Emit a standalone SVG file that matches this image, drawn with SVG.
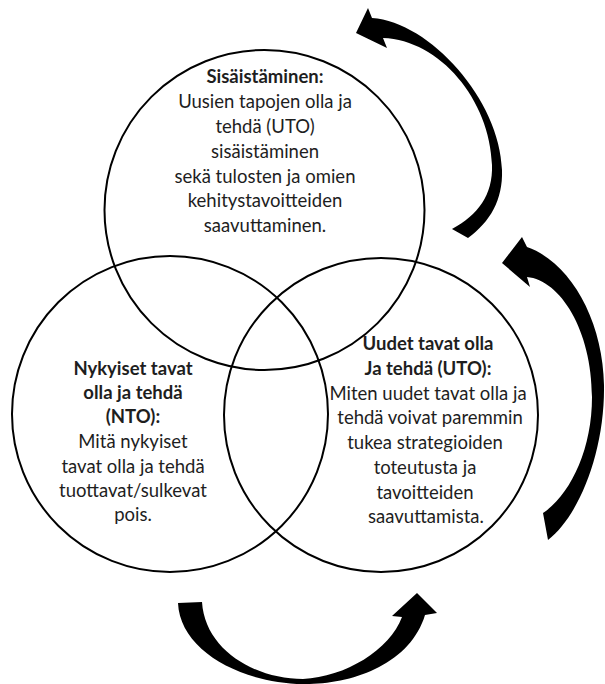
<svg xmlns="http://www.w3.org/2000/svg" width="605" height="684" viewBox="0 0 605 684">
<style>
.c{fill:none;stroke:#000;stroke-width:2}
.t{font-family:Lato,"Liberation Sans",sans-serif;font-size:18.5px;fill:#1e1e1e;text-anchor:middle}
.b{font-weight:bold}
.a{fill:#000;stroke:none}
</style>
<rect width="605" height="684" fill="#fff"/>
<g id="sisaistaminen">
<circle class="c" cx="264.5" cy="210" r="160"/>
<text class="t b" x="265" y="83">Sisäistäminen:</text>
<text class="t" x="265" y="108">Uusien tapojen olla ja</text>
<text class="t" x="265" y="133">tehdä (UTO)</text>
<text class="t" x="265" y="158">sisäistäminen</text>
<text class="t" x="265" y="183">sekä tulosten ja omien</text>
<text class="t" x="265" y="207">kehitystavoitteiden</text>
<text class="t" x="265" y="232">saavuttaminen.</text>
</g>
<g id="nto">
<circle class="c" cx="170" cy="414" r="158"/>
<text class="t b" x="133" y="375">Nykyiset tavat</text>
<text class="t b" x="133" y="399">olla ja tehdä</text>
<text class="t b" x="133" y="423">(NTO):</text>
<text class="t" x="133" y="448">Mitä nykyiset</text>
<text class="t" x="133" y="473">tavat olla ja tehdä</text>
<text class="t" x="133" y="497">tuottavat/sulkevat</text>
<text class="t" x="133" y="521">pois.</text>
</g>
<g id="uto">
<circle class="c" cx="381" cy="415" r="157"/>
<text class="t b" x="428" y="350">Uudet tavat olla</text>
<text class="t b" x="428" y="375">Ja tehdä (UTO):</text>
<text class="t" x="428" y="400">Miten uudet tavat olla ja</text>
<text class="t" x="430" y="424">tehdä voivat paremmin</text>
<text class="t" x="425" y="449">tukea strategioiden</text>
<text class="t" x="425" y="474">toteutusta ja</text>
<text class="t" x="425" y="499">tavoitteiden</text>
<text class="t" x="426" y="523">saavuttamista.</text>
</g>
<g id="connectors">
<path class="a" d="M356 33 L368 8 L372 18 C430 22 500 100 502 170 C503 200 490 222 468 238 L452 229 C478 215 493 195 492 165 C490 100 440 40 383 38 L387 48 Z"/>
<path class="a" d="M502 263 L522 237 L527 247 C570 262 603 320 604 385 C605 450 580 515 548 540 L543 513 C570 495 592 450 592 397 C592 330 560 280 527 277 L530 287 Z"/>
<path class="a" d="M178 603 L202 602 C205 650 255 679 303 679 C345 677 390 650 402 617 L392 616 L417 593 L437 613 L425 615 C410 665 350 685 303 684 C240 683 180 650 178 603 Z"/>
</g>
</svg>
